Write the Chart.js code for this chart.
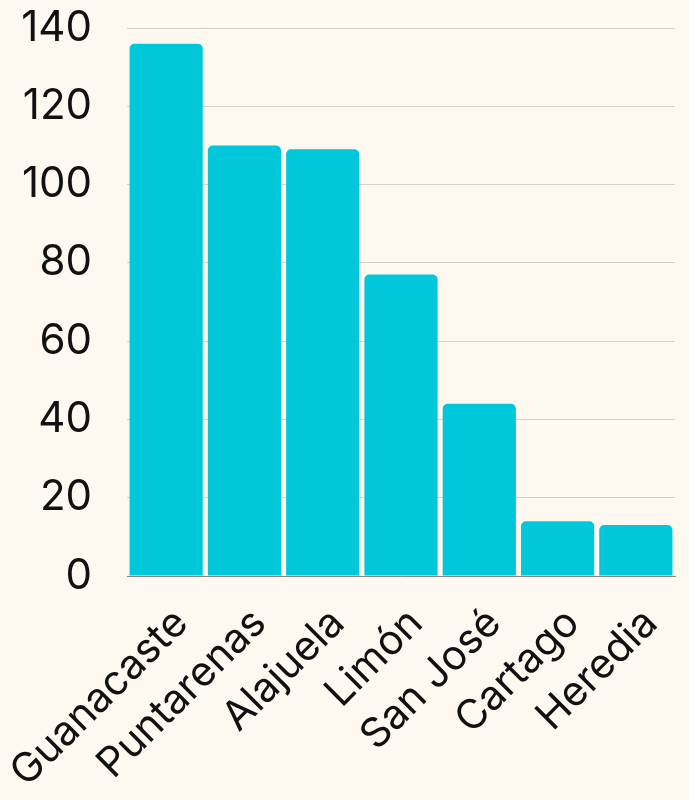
<!DOCTYPE html>
<html>
<head>
<meta charset="utf-8">
<script src="https://cdn.jsdelivr.net/npm/chart.js@4/dist/chart.umd.min.js"></script>
<style>
  html, body { margin: 0; padding: 0; background: #fdf9f1; }
  #wrap { width: 689px; height: 800px; }
</style>
</head>
<body>
<div id="wrap"><canvas id="provChart"></canvas></div>
<script>
const provinces = ["Guanacaste", "Puntarenas", "Alajuela", "Limón", "San José", "Cartago", "Heredia"];
const counts = [136, 110, 109, 77, 44, 14, 13];
const yTicks = [0, 20, 40, 60, 80, 100, 120, 140];

Chart.defaults.font.family = "Inter, 'Noto Sans', sans-serif";
Chart.defaults.color = "#111";

new Chart(document.getElementById("provChart"), {
  type: "bar",
  data: {
    labels: provinces,
    datasets: [
      {
        data: counts,
        backgroundColor: "#00c8da",
        borderRadius: { topLeft: 5, topRight: 5 },
        borderSkipped: "bottom",
        barPercentage: 0.935,
        categoryPercentage: 1.0,
      },
    ],
  },
  options: {
    responsive: true,
    maintainAspectRatio: false,
    animation: false,
    layout: { padding: { top: 28, right: 14, left: 0, bottom: 0 } },
    plugins: { legend: { display: false }, tooltip: { enabled: false } },
    scales: {
      x: {
        grid: { display: false },
        border: { color: "#8a8580", width: 1 },
        afterFit: (axis) => {
          axis.height = 224;
          axis.paddingLeft = 0;
          axis.paddingRight = 0;
        },
        ticks: {
          font: { size: 41 },
          maxRotation: 45,
          minRotation: 45,
          padding: 15,
          labelOffset: 15,
          color: "#111",
        },
      },
      y: {
        min: yTicks[0],
        max: yTicks[yTicks.length - 1],
        grid: { color: "#d6d0c8", drawTicks: false },
        border: { display: false },
        afterBuildTicks: (axis) => {
          axis.ticks = yTicks.map((v) => ({ value: v }));
        },
        afterFit: (axis) => {
          axis.width = 127;
          axis.paddingTop = 0;
          axis.paddingBottom = 0;
        },
        ticks: {
          font: { size: 42 },
          padding: 35,
          color: "#111",
        },
      },
    },
  },
});
</script>
</body>
</html>
